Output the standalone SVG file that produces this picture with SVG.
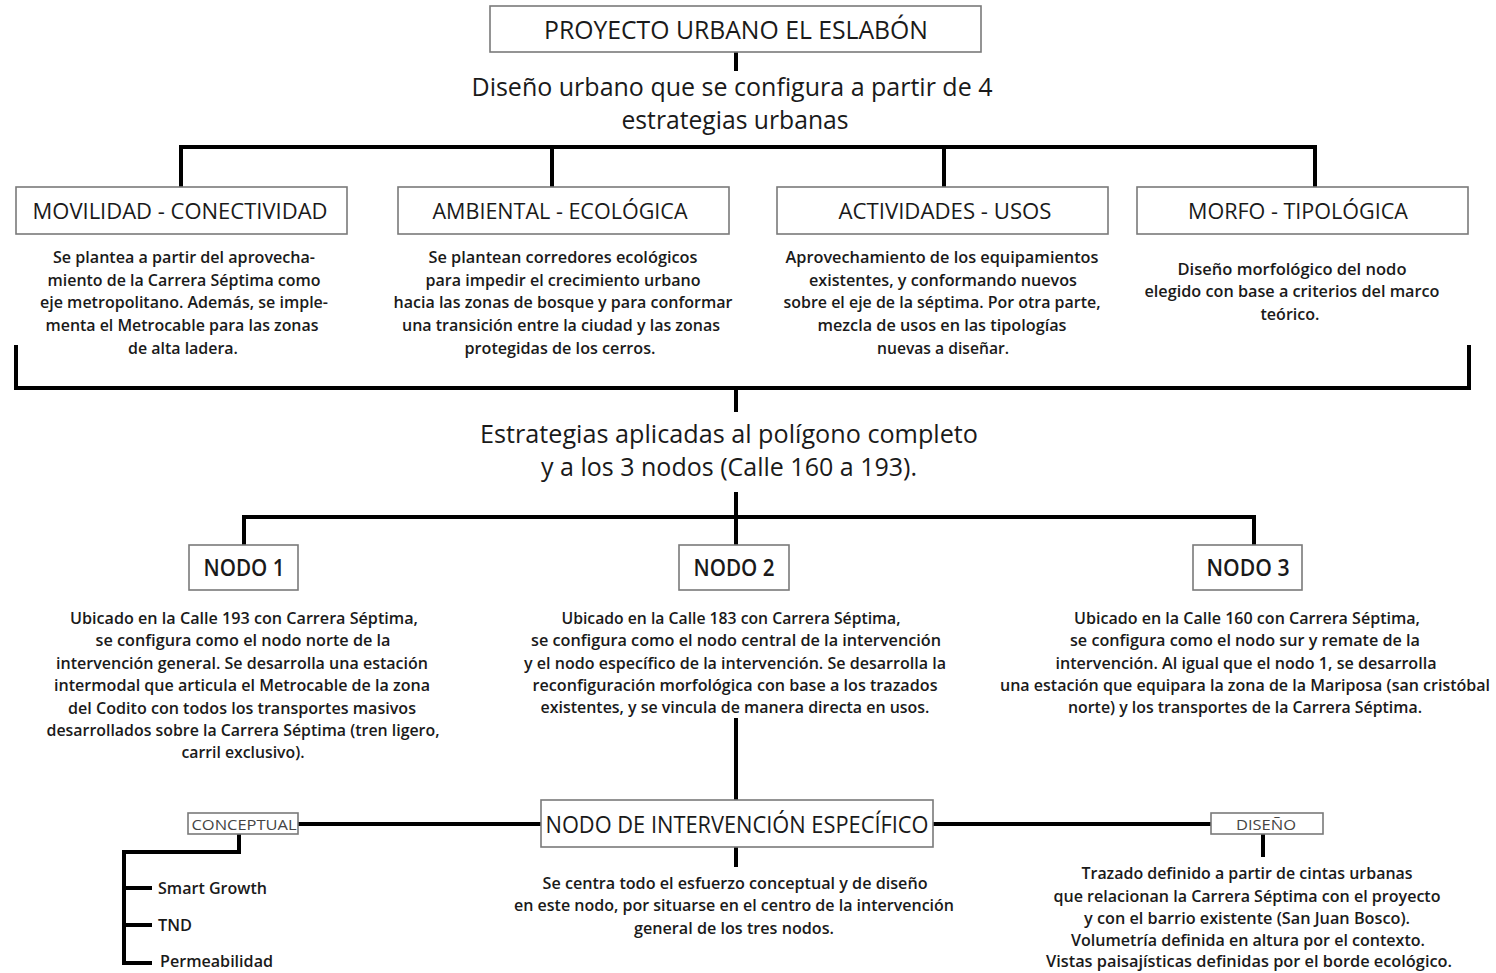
<svg xmlns="http://www.w3.org/2000/svg" width="1496" height="973" viewBox="0 0 1496 973">
<style>
.bx{fill:#fff;stroke:#7a7a7a;stroke-width:1.6}
.ln{fill:none;stroke:#000;stroke-width:4;stroke-linecap:butt}
.t{font-family:"Open Sans","Liberation Sans",sans-serif;fill:#1a1a1a;text-anchor:middle}
.h{font-size:26px}
.s{font-size:22.5px}
.p{font-size:16px;font-weight:600}
.sm{font-size:15px;fill:#444}
.l{font-family:"Open Sans","Liberation Sans",sans-serif;font-size:16px;font-weight:600;fill:#1a1a1a}
</style>
<rect width="1496" height="973" fill="#fff"/>
<g id="connectors">
<path class="ln" d="M736 52V71"/>
<path class="ln" d="M181 187V147H1315V187M552 147V187M944 147V187"/>
<path class="ln" d="M16 345V388H1469V345M736 388V412" stroke-width="5"/>
<path class="ln" d="M736 492V545M244 545V517H1254V545"/>
<path class="ln" d="M736 718V800M736 847V867"/>
<path class="ln" d="M298 824H541M933 824H1211"/>
<path class="ln" d="M239 834V852H124V963H152M124 888H152M124 925H152"/>
<path class="ln" d="M1263 834V857"/>
</g>
<g id="title">
<rect class="bx" x="490" y="6" width="491" height="46"/>
<text class="t h" x="736" y="39" textLength="384" lengthAdjust="spacingAndGlyphs">PROYECTO URBANO EL ESLABÓN</text>
</g>
<g id="subtitle">
<text class="t h" x="732" y="96" textLength="521" lengthAdjust="spacingAndGlyphs">Diseño urbano que se configura a partir de 4</text>
<text class="t h" x="735" y="129" textLength="227" lengthAdjust="spacingAndGlyphs">estrategias urbanas</text>
</g>
<g id="movilidad">
<rect class="bx" x="16" y="187" width="331" height="47"/>
<text class="t s" x="180" y="219" textLength="295" lengthAdjust="spacingAndGlyphs">MOVILIDAD - CONECTIVIDAD</text>
<text class="t p" x="184" y="263" textLength="262" lengthAdjust="spacingAndGlyphs">Se plantea a partir del aprovecha-</text>
<text class="t p" x="184" y="286" textLength="273" lengthAdjust="spacingAndGlyphs">miento de la Carrera Séptima como</text>
<text class="t p" x="184" y="308" textLength="288" lengthAdjust="spacingAndGlyphs">eje metropolitano. Además, se imple-</text>
<text class="t p" x="182" y="331" textLength="273" lengthAdjust="spacingAndGlyphs">menta el Metrocable para las zonas</text>
<text class="t p" x="183" y="354" textLength="110" lengthAdjust="spacingAndGlyphs">de alta ladera.</text>
</g>
<g id="ambiental">
<rect class="bx" x="398" y="187" width="331" height="47"/>
<text class="t s" x="560" y="219" textLength="255" lengthAdjust="spacingAndGlyphs">AMBIENTAL - ECOLÓGICA</text>
<text class="t p" x="563" y="263" textLength="269" lengthAdjust="spacingAndGlyphs">Se plantean corredores ecológicos</text>
<text class="t p" x="563" y="286" textLength="275" lengthAdjust="spacingAndGlyphs">para impedir el crecimiento urbano</text>
<text class="t p" x="563" y="308" textLength="339" lengthAdjust="spacingAndGlyphs">hacia las zonas de bosque y para conformar</text>
<text class="t p" x="561" y="331" textLength="318" lengthAdjust="spacingAndGlyphs">una transición entre la ciudad y las zonas</text>
<text class="t p" x="560" y="354" textLength="191" lengthAdjust="spacingAndGlyphs">protegidas de los cerros.</text>
</g>
<g id="actividades">
<rect class="bx" x="777" y="187" width="331" height="47"/>
<text class="t s" x="945" y="219" textLength="213" lengthAdjust="spacingAndGlyphs">ACTIVIDADES - USOS</text>
<text class="t p" x="942" y="263" textLength="313" lengthAdjust="spacingAndGlyphs">Aprovechamiento de los equipamientos</text>
<text class="t p" x="943" y="286" textLength="268" lengthAdjust="spacingAndGlyphs">existentes, y conformando nuevos</text>
<text class="t p" x="942" y="308" textLength="317" lengthAdjust="spacingAndGlyphs">sobre el eje de la séptima. Por otra parte,</text>
<text class="t p" x="942" y="331" textLength="249" lengthAdjust="spacingAndGlyphs">mezcla de usos en las tipologías</text>
<text class="t p" x="943" y="354" textLength="132" lengthAdjust="spacingAndGlyphs">nuevas a diseñar.</text>
</g>
<g id="morfo">
<rect class="bx" x="1137" y="187" width="331" height="47"/>
<text class="t s" x="1298" y="219" textLength="220" lengthAdjust="spacingAndGlyphs">MORFO - TIPOLÓGICA</text>
<text class="t p" x="1292" y="275" textLength="229" lengthAdjust="spacingAndGlyphs">Diseño morfológico del nodo</text>
<text class="t p" x="1292" y="297" textLength="295" lengthAdjust="spacingAndGlyphs">elegido con base a criterios del marco</text>
<text class="t p" x="1290" y="320" textLength="59" lengthAdjust="spacingAndGlyphs">teórico.</text>
</g>
<g id="estrategias">
<text class="t h" x="729" y="443" textLength="498" lengthAdjust="spacingAndGlyphs">Estrategias aplicadas al polígono completo</text>
<text class="t h" x="729" y="476" textLength="376" lengthAdjust="spacingAndGlyphs">y a los 3 nodos (Calle 160 a 193).</text>
</g>
<g id="nodo1">
<rect class="bx" x="189" y="545" width="109" height="45"/>
<text class="t s" x="244" y="576" font-weight="600" textLength="81" lengthAdjust="spacingAndGlyphs">NODO 1</text>
<text class="t p" x="244" y="624" textLength="348" lengthAdjust="spacingAndGlyphs">Ubicado en la Calle 193 con Carrera Séptima,</text>
<text class="t p" x="243" y="646" textLength="295" lengthAdjust="spacingAndGlyphs">se configura como el nodo norte de la</text>
<text class="t p" x="242" y="669" textLength="372" lengthAdjust="spacingAndGlyphs">intervención general. Se desarrolla una estación</text>
<text class="t p" x="242" y="691" textLength="376" lengthAdjust="spacingAndGlyphs">intermodal que articula el Metrocable de la zona</text>
<text class="t p" x="242" y="714" textLength="348" lengthAdjust="spacingAndGlyphs">del Codito con todos los transportes masivos</text>
<text class="t p" x="243" y="736" textLength="393" lengthAdjust="spacingAndGlyphs">desarrollados sobre la Carrera Séptima (tren ligero,</text>
<text class="t p" x="243" y="758" textLength="123" lengthAdjust="spacingAndGlyphs">carril exclusivo).</text>
</g>
<g id="nodo2">
<rect class="bx" x="679" y="545" width="110" height="45"/>
<text class="t s" x="734" y="576" font-weight="600" textLength="81" lengthAdjust="spacingAndGlyphs">NODO 2</text>
<text class="t p" x="731" y="624" textLength="339" lengthAdjust="spacingAndGlyphs">Ubicado en la Calle 183 con Carrera Séptima,</text>
<text class="t p" x="736" y="646" textLength="410" lengthAdjust="spacingAndGlyphs">se configura como el nodo central de la intervención</text>
<text class="t p" x="735" y="669" textLength="422" lengthAdjust="spacingAndGlyphs">y el nodo específico de la intervención. Se desarrolla la</text>
<text class="t p" x="735" y="691" textLength="405" lengthAdjust="spacingAndGlyphs">reconfiguración morfológica con base a los trazados</text>
<text class="t p" x="735" y="713" textLength="389" lengthAdjust="spacingAndGlyphs">existentes, y se vincula de manera directa en usos.</text>
</g>
<g id="nodo3">
<rect class="bx" x="1193" y="545" width="109" height="45"/>
<text class="t s" x="1248" y="576" font-weight="600" textLength="83" lengthAdjust="spacingAndGlyphs">NODO 3</text>
<text class="t p" x="1247" y="624" textLength="346" lengthAdjust="spacingAndGlyphs">Ubicado en la Calle 160 con Carrera Séptima,</text>
<text class="t p" x="1245" y="646" textLength="350" lengthAdjust="spacingAndGlyphs">se configura como el nodo sur y remate de la</text>
<text class="t p" x="1246" y="669" textLength="381" lengthAdjust="spacingAndGlyphs">intervención. Al igual que el nodo 1, se desarrolla</text>
<text class="t p" x="1245" y="691" textLength="490" lengthAdjust="spacingAndGlyphs">una estación que equipara la zona de la Mariposa (san cristóbal</text>
<text class="t p" x="1245" y="713" textLength="354" lengthAdjust="spacingAndGlyphs">norte) y los transportes de la Carrera Séptima.</text>
</g>
<g id="nodo-especifico">
<rect class="bx" x="541" y="800" width="392" height="47"/>
<text class="t" x="737" y="833" font-size="23.5" textLength="383" lengthAdjust="spacingAndGlyphs">NODO DE INTERVENCIÓN ESPECÍFICO</text>
<text class="t p" x="735" y="889" textLength="385" lengthAdjust="spacingAndGlyphs">Se centra todo el esfuerzo conceptual y de diseño</text>
<text class="t p" x="734" y="911" textLength="440" lengthAdjust="spacingAndGlyphs">en este nodo, por situarse en el centro de la intervención</text>
<text class="t p" x="734" y="934" textLength="200" lengthAdjust="spacingAndGlyphs">general de los tres nodos.</text>
</g>
<g id="conceptual">
<rect class="bx" x="188" y="813" width="110" height="21"/>
<text class="t sm" x="244" y="829.5" textLength="105" lengthAdjust="spacingAndGlyphs">CONCEPTUAL</text>
</g>
<g id="smart-growth"><text class="l" x="158" y="894" textLength="109" lengthAdjust="spacingAndGlyphs">Smart Growth</text></g>
<g id="tnd"><text class="l" x="158" y="931" textLength="34" lengthAdjust="spacingAndGlyphs">TND</text></g>
<g id="permeabilidad"><text class="l" x="160" y="967" textLength="113" lengthAdjust="spacingAndGlyphs">Permeabilidad</text></g>
<g id="diseno">
<rect class="bx" x="1211" y="813" width="112" height="21"/>
<text class="t sm" x="1266" y="829.5" textLength="60" lengthAdjust="spacingAndGlyphs">DISEÑO</text>
<text class="t p" x="1247" y="879" textLength="331" lengthAdjust="spacingAndGlyphs">Trazado definido a partir de cintas urbanas</text>
<text class="t p" x="1247" y="902" textLength="387" lengthAdjust="spacingAndGlyphs">que relacionan la Carrera Séptima con el proyecto</text>
<text class="t p" x="1247" y="924" textLength="326" lengthAdjust="spacingAndGlyphs">y con el barrio existente (San Juan Bosco).</text>
<text class="t p" x="1248" y="946" textLength="354" lengthAdjust="spacingAndGlyphs">Volumetría definida en altura por el contexto.</text>
<text class="t p" x="1249" y="967" textLength="406" lengthAdjust="spacingAndGlyphs">Vistas paisajísticas definidas por el borde ecológico.</text>
</g>
</svg>
